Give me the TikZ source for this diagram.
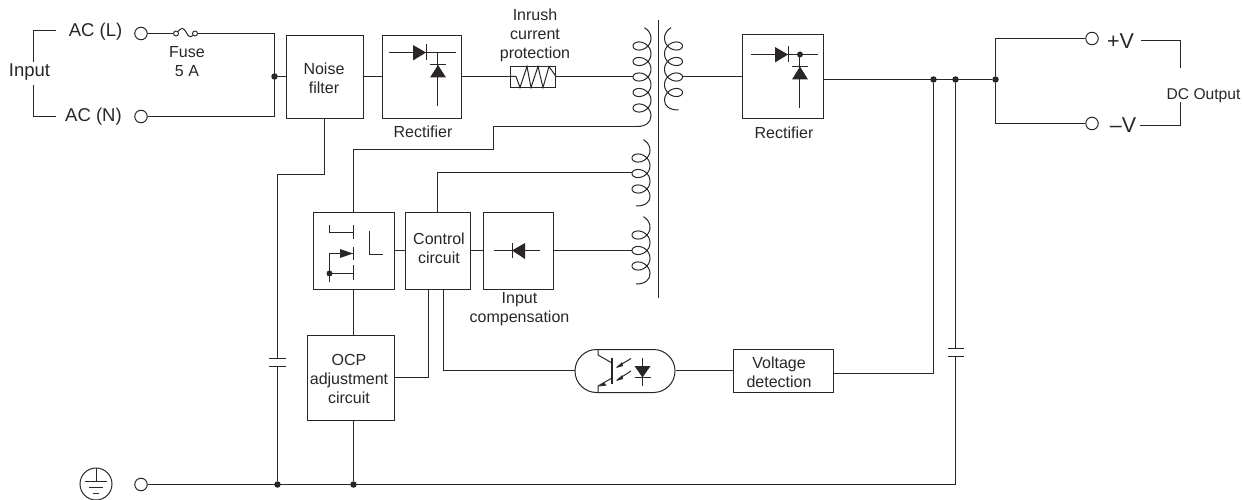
\documentclass[tikz,border=0pt]{standalone}
\usepackage{fontspec}
\setmainfont{Liberation Sans}
\definecolor{ink}{HTML}{2A2627}
\newcommand{\coilshape}[5]{% cx, sign, first loop y, n, end y
  \pgfmathsetmacro{\coilend}{360*#4}
  \pgfmathsetmacro{\coilys}{#3-7.75+15.5*#4}
  \draw[coil wire] plot[samples=200,domain=-75:\coilend,variable=\t]
    ({#1+#2*9*cos(\t)},{#3-7.75+\t/360*15.5+7.5*sin(\t)})
    .. controls ({#1+#2*9},{\coilys+0.6*(#5-\coilys)}) and ({#1+#2*4},{#5}) ..
    ({#1-#2*5},{#5});
}
\tikzset{
  wire/.style={draw=ink,line width=1.35pt,line cap=butt,line join=miter},
  coil wire/.style={draw=ink,line width=1pt,line join=round},
  thin wire/.style={draw=ink,line width=1pt},
  blockbox/.style={draw=ink,line width=1.35pt,rectangle,fill=white,inner sep=0pt},
  lbl/.style={text=ink,align=center,inner sep=0pt,font=\fontsize{16}{19}\selectfont},
  biglbl/.style={text=ink,align=center,inner sep=0pt,font=\fontsize{18.5}{22}\selectfont},
  vlbl/.style={text=ink,align=center,inner sep=0pt,font=\fontsize{21.5}{24}\selectfont},
  term/.style={circle,draw=ink,line width=1pt,fill=white,minimum size=12.5pt,inner sep=0pt},
  fusepin/.style={circle,draw=ink,line width=0.9pt,fill=white,minimum size=5pt,inner sep=0pt},
  jdot/.style={circle,fill=ink,minimum size=6.5pt,inner sep=0pt},
}
\begin{document}
\begin{tikzpicture}[x=1pt,y=-1pt]
\useasboundingbox (0,0) rectangle (1244,500);
% input bracket
\coordinate (bl1) at (56,30.5); \coordinate (bl2) at (33.5,62);
\coordinate (bl3) at (33.5,85); \coordinate (bl4) at (56,116.5);
\draw[wire] (bl1) -| (bl2);
\draw[wire] (bl4) -| (bl3);
% output bracket
\coordinate (br1) at (1141,40.5); \coordinate (br2) at (1180.5,68);
\coordinate (br3) at (1180.5,102); \coordinate (br4) at (1140,125.5);
\draw[wire] (br1) -| (br2);
\draw[wire] (br4) -| (br3);
% boxes
\node[blockbox,minimum width=77pt,minimum height=83pt] (nf) at (325,77) {};
\node[blockbox,minimum width=79pt,minimum height=83pt] (r1) at (422,77) {};
\node[blockbox,minimum width=81pt,minimum height=84pt] (r2) at (783,76.5) {};
\node[blockbox,minimum width=81pt,minimum height=77pt] (sw) at (354,251) {};
\node[blockbox,minimum width=65pt,minimum height=77pt] (cc) at (438,251) {};
\node[blockbox,minimum width=70pt,minimum height=77pt] (ic) at (518.5,251) {};
\node[blockbox,minimum width=87pt,minimum height=85pt] (ocp) at (351,378) {};
\node[blockbox,minimum width=100pt,minimum height=43pt] (vd) at (783.5,371) {};
\node[rectangle,draw=ink,line width=1pt,minimum width=45pt,minimum height=21pt,inner sep=0pt] (inr) at (533,77) {};
% labels
\node[biglbl] (inp) at (29.5,72) {Input};
\node[biglbl] (acl) at (95.5,32) {AC (L)};
\node[biglbl] (acn) at (93.5,117) {AC (N)};
\node[lbl] (fuset) at (187,61.5) {Fuse\\5 A};
\node[lbl] (inrt) at (535,35) {Inrush\\current\\protection};
\node[lbl] (rect1t) at (423,131.5) {Rectifier};
\node[lbl] (rect2t) at (784,132.5) {Rectifier};
\node[lbl] (compt) at (519.5,309.5) {Input\\compensation};
\node[vlbl] (pv) at (1120.5,41) {+V};
\node[vlbl] (mv) at (1123,125.5) {–V};
\node[lbl,font=\fontsize{15.6}{19}\selectfont] (dco) at (1203.5,96) {DC Output};
\node[lbl] (nft) at (324,78) {Noise\\filter};
\node[lbl] (cct) at (439,248.5) {Control\\circuit};
\node[lbl] (ocpt) at (349,378.5) {OCP\\adjustment\\circuit};
\node[lbl] (vdt) at (779,372.5) {Voltage\\detection};
% terminals
\node[term] (tl) at (141,33.5) {};
\node[term] (tn) at (141,116.5) {};
\node[term] (tg) at (141,484.5) {};
\node[term] (tp) at (1092,38.5) {};
\node[term] (tm) at (1092,123.5) {};
% fuse
\node[fusepin] (f1) at (176,33.5) {};
\node[fusepin] (f2) at (195,33.5) {};
\draw[thin wire] (f1.north east) .. controls (181,27) and (184,28) .. (186,32) .. controls (188,36) and (190,38) .. (f2.south west);
% junctions
\node[jdot] (j1) at (274.5,76.5) {};
\node[jdot] (j2) at (933.5,79.5) {};
\node[jdot] (j3) at (955.5,79.5) {};
\node[jdot] (j4) at (995.5,79.5) {};
\node[jdot] (j5) at (277.5,484.5) {};
\node[jdot] (j6) at (353.5,484.5) {};
% transformer core
\coordinate (c1) at (658.5,20); \coordinate (c2) at (658.5,298);
\draw[wire] (c1) -- (c2);
% coils
\coilshape{642}{1}{46}{5}{126.5}
\coilshape{673.5}{-1}{46}{4}{110}
\coilshape{641}{1}{158}{3}{206}
\coilshape{641}{1}{235}{3}{284}
% coil pins
\coordinate (p1) at (633,76.5); \coordinate (p2) at (682.5,76.5);
\coordinate (p3) at (637,126.5); \coordinate (p4) at (632,172.5); \coordinate (p5) at (632,250.5);
% AC wiring
\coordinate (t1) at (274.5,33.5); \coordinate (t2) at (274.5,116.5);
\draw[wire] (tl) -- (f1);
\draw[wire] (f2) -- (t1) -- (t2) -- (tn);
\draw[wire] (j1) -- (j1 -| nf.west);
\draw[wire] (j1 -| nf.east) -- (j1 -| r1.west);
\draw[wire] (j1 -| r1.east) -- (j1 -| inr.west);
\draw[wire] (j1 -| inr.east) -- (p1);
\draw[wire] (p2) -- (p2 -| r2.west);
% output wiring
\draw[wire] (j4 -| r2.east) -- (j4);
\draw[wire] (tp.west) -| (j4);
\draw[wire] (tm.west) -| (j4);
% primary tap
\coordinate (s1) at (493.5,126.5); \coordinate (s2) at (493.5,149.5);
\coordinate (swt) at (353.5,212.5); \coordinate (swb) at (353.5,289.5);
\draw[wire] (p3) -- (s1) -- (s2) -| (swt);
% noise filter to earth with capacitor
\coordinate (nfb) at (324.5,118.5);
\coordinate (n1) at (324.5,174.5); \coordinate (n2) at (277.5,174.5);
\coordinate (ca) at (277.5,358.5); \coordinate (cb) at (277.5,366.5);
\draw[wire] (nfb) -- (n1) -- (n2) -- (ca);
\draw[wire] (cb) -- (j5);
\draw[wire] (269,358.5) -- (286,358.5);
\draw[wire] (269,366.5) -- (286,366.5);
% earth line & second capacitor
\coordinate (g1) at (955.5,484.5);
\coordinate (cc1) at (955.5,348.5); \coordinate (cc2) at (955.5,356.5);
\draw[wire] (tg) -- (g1) -- (cc2);
\draw[wire] (cc1) -- (j3);
\draw[wire] (947.5,348.5) -- (964,348.5);
\draw[wire] (947.5,356.5) -- (964,356.5);
% control wiring
\coordinate (ccpin) at (437.5,212.5);
\draw[wire] (ccpin) |- (p4);
\draw[wire] (p5 -| sw.east) -- (p5 -| cc.west);
\draw[wire] (p5 -| cc.east) -- (p5 -| ic.west);
\draw[wire] (p5 -| ic.east) -- (p5);
\draw[wire] (swb) -- (swb |- ocp.north);
\draw[wire] (swb |- ocp.south) -- (j6);
\coordinate (o1) at (428.5,289.5); \coordinate (o2) at (443.5,289.5); \coordinate (oy) at (0,377.5);
\draw[wire] (o1) |- (oy -| ocp.east);
% optocoupler
\node[rectangle,rounded corners=21.5pt,draw=ink,line width=1pt,minimum width=100pt,minimum height=43pt,inner sep=0pt] (opto) at (625,371) {};
\coordinate (oy2) at (0,370.5);
\draw[wire] (o2) |- (oy2 -| opto.west);
\draw[wire] (oy2 -| opto.east) -- (oy2 -| vd.west);
\coordinate (v1) at (vd.east |- 0,373.5);
\draw[wire] (v1) -| (j2);
% opto interior
\draw[wire] (612,358) -- (612,384);
\draw[thin wire] (598,349) -- (598,355) -- (612,363);
\draw[thin wire] (598,392) -- (598,386) -- (612,378);
\fill[ink] (604,382.5) -- (599,386.5) -- (606.5,385.5) -- cycle;
\draw[thin wire] (617,367) -- (631,358.5);
\draw[thin wire] (617,380) -- (631,371);
\fill[ink] (616,368) -- (622,362) -- (623,366) -- cycle;
\fill[ink] (616,381) -- (622,375) -- (623,379) -- cycle;
\draw[thin wire] (642.5,358) -- (642.5,386);
\fill[ink] (634.5,366) -- (650.5,366) -- (642.5,377.5) -- cycle;
\draw[thin wire] (634.5,377.5) -- (650.5,377.5);
% rectifier 1
\draw[thin wire] (389,52.5) -- (456,52.5);
\fill[ink] (413,45) -- (413,60.5) -- (426,52.5) -- cycle;
\draw[thin wire] (426.5,44.5) -- (426.5,60.5);
\draw[thin wire] (437.5,52.5) -- (437.5,106.5);
\fill[ink] (430,77.5) -- (446,77.5) -- (438,65) -- cycle;
\draw[thin wire] (430,64.5) -- (446,64.5);
% rectifier 2
\draw[thin wire] (751,54.5) -- (818,54.5);
\fill[ink] (775,47) -- (775,62.5) -- (788,54.5) -- cycle;
\draw[thin wire] (788.5,46.5) -- (788.5,62.5);
\fill[ink] (800,54.5) circle (3pt);
\draw[thin wire] (799.5,54.5) -- (799.5,108);
\fill[ink] (792,79.5) -- (808,79.5) -- (800,66.5) -- cycle;
\draw[thin wire] (792,66.5) -- (808,66.5);
% switch interior
\draw[thin wire] (329.5,225) -- (329.5,232.5) -- (353,232.5);
\draw[thin wire] (353.5,225) -- (353.5,239);
\draw[thin wire] (369.5,231) -- (369.5,254.5) -- (383,254.5);
\draw[thin wire] (329.5,282) -- (329.5,253.5) -- (353,253.5);
\fill[ink] (340,249) -- (340,258) -- (353,253.5) -- cycle;
\draw[thin wire] (353.5,247) -- (353.5,260);
\draw[thin wire] (329.5,273.5) -- (353,273.5);
\draw[thin wire] (353.5,265) -- (353.5,280);
\fill[ink] (329.5,273.5) circle (3pt);
% input compensation diode
\draw[thin wire] (494,250.5) -- (540,250.5);
\fill[ink] (512,250.5) -- (525,243) -- (525,259) -- cycle;
\draw[thin wire] (512.5,243) -- (512.5,258);
% inrush zigzag
\draw[thin wire] (j1 -| inr.west) -- (516,76.5) -- (520,87.5) -- (527,66.5) -- (531,87.5) -- (538,66.5) -- (543,87.5) -- (549,66.5) -- (j1 -| inr.east);
% earth symbol
\node[circle,draw=ink,line width=1pt,minimum size=32pt,inner sep=0pt] (earth) at (96,484) {};
\draw[thin wire] (96,468) -- (96,481);
\draw[thin wire] (85,481) -- (107,481);
\draw[thin wire] (89,487) -- (103,487);
\draw[thin wire] (93,493) -- (99,493);
\end{tikzpicture}
\end{document}
